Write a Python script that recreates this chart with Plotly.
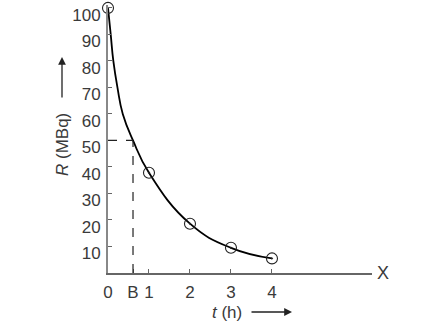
import plotly.graph_objects as go

# measured data points (t in hours, R in MBq)
t_pts = [0, 1, 2, 3, 4]
r_pts = [100, 37.8, 18.6, 9.5, 5.5]

# points
t_curve = [0, 0.066, 0.13, 0.23, 0.36, 0.61, 1, 2, 3, 4]
r_curve = [100, 90, 80, 70, 60, 50, 37.8, 18.6, 9.5, 5.5]

half_life_t = 0.61
half_R = 50

x_tickvals = [0, half_life_t, 1, 2, 3, 4]
x_ticktext = ["0", "B", "1", "2", "3", "4"]
y_tickvals = [10, 20, 30, 40, 50, 60, 70, 80, 90, 100]
y_ticktext = [str(v) for v in y_tickvals]

FONT = "Liberation Sans"
TXT = "#3a3a3a"

fig = go.Figure()
fig.add_trace(go.Scatter(x=t_curve, y=r_curve, mode="lines",
                         line=dict(color="black", width=1.8, shape="spline", smoothing=1.3),
                         hoverinfo="skip", cliponaxis=False))
fig.add_trace(go.Scatter(x=t_pts, y=r_pts, mode="markers",
                         marker=dict(symbol="circle-open-dot", size=11, color="#222",
                                     line=dict(color="#222", width=1.1)),
                         cliponaxis=False))

# dashed guide lines
fig.add_shape(type="line", x0=0, x1=half_life_t, y0=half_R, y1=half_R,
              line=dict(color="#222", width=1.2, dash="dash"))
fig.add_shape(type="line", x0=half_life_t, x1=half_life_t, y0=0, y1=half_R,
              line=dict(color="#222", width=1.2, dash="dash"))

fig.update_layout(
    width=447, height=325,
    margin=dict(l=108, r=75, t=5, b=52, autoexpand=False),
    paper_bgcolor="white", plot_bgcolor="white",
    showlegend=False,
    font=dict(family=FONT, size=17, color=TXT),
)
fig.update_xaxes(range=[0, 6.44], showgrid=False, zeroline=False, automargin=False,
                 showline=True, linecolor="#666", linewidth=1.5,
                 tickmode="array", tickvals=x_tickvals, ticktext=x_ticktext,
                 ticks="inside", ticklen=4, tickcolor="#666", tickwidth=1,
                 tickfont=dict(size=17, color=TXT), ticklabelstandoff=3)
fig.update_yaxes(range=[0, 101.1], showgrid=False, zeroline=False, automargin=False,
                 showline=True, linecolor="#888", linewidth=2,
                 tickmode="array", tickvals=y_tickvals, ticktext=y_ticktext,
                 ticks="inside", ticklen=4, tickcolor="#666", tickwidth=1,
                 tickfont=dict(size=17, color=TXT), ticklabelshift=7,
                 ticklabeloverflow="allow", ticklabelstandoff=2)

fig.add_annotation(x=1, xref="paper", y=0, yref="y", text="X", showarrow=False,
                   xanchor="left", yanchor="middle", xshift=3, font=dict(size=18, color=TXT))
# x-axis title + arrow
fig.add_annotation(x=0.5, xref="paper", y=0, yref="paper", text="<i>t</i> (h)",
                   showarrow=False, xanchor="center", yanchor="middle", yshift=-39, xshift=-13,
                   font=dict(size=17, color=TXT))
fig.add_annotation(x=0.5, xref="paper", y=0, yref="paper", ax=-42, ay=0, text="",
                   showarrow=True, arrowhead=2, arrowsize=1.2, arrowwidth=1.3, arrowcolor="#222",
                   xshift=52, yshift=-39)
# y-axis title + arrow
fig.add_annotation(x=0, xref="paper", y=0.5, yref="paper", text="<i>R</i> (MBq)",
                   showarrow=False, textangle=-90, xanchor="center", yanchor="middle",
                   xshift=-46, yshift=-6, font=dict(size=17, color=TXT))
fig.add_annotation(x=0, xref="paper", y=0.5, yref="paper", ax=0, ay=42, text="",
                   showarrow=True, arrowhead=2, arrowsize=1.2, arrowwidth=1.3, arrowcolor="#222",
                   xshift=-46, yshift=82)

fig.write_html("out.html")
